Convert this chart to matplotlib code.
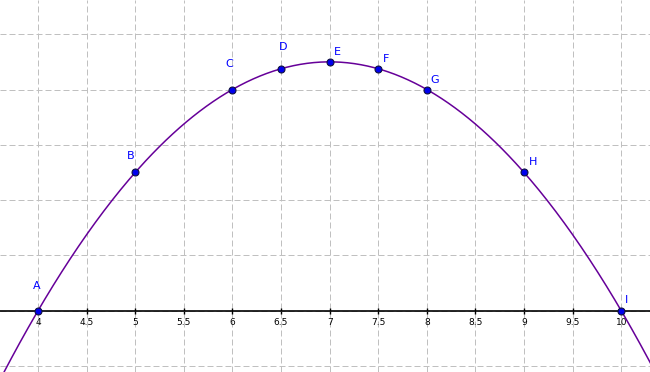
import numpy as np
import matplotlib
matplotlib.use("Agg")
import matplotlib.pyplot as plt

# point data
names = ["A", "B", "C", "D", "E", "F", "G", "H", "I"]
px = [4, 5, 6, 6.5, 7, 7.5, 8, 9, 10]
py = [0, 5, 8, 8.75, 9, 8.75, 8, 5, 0]
xticks = [4, 4.5, 5, 5.5, 6, 6.5, 7, 7.5, 8, 8.5, 9, 9.5, 10]
xtick_labels = ["4", "4.5", "5", "5.5", "6", "6.5", "7", "7.5", "8", "8.5", "9", "9.5", "10"]
ygrid = [-2, 0, 2, 4, 6, 8, 10]

# label offsets in pixels (dx, dy)
offsets = [(-1, 25), (-5, 16), (-3, 26), (2, 22), (8, 10), (8, 10), (8, 10), (9, 10), (5, 11)]

fig = plt.figure(figsize=(6.5, 3.72), dpi=100)
ax = fig.add_axes([0, 0, 1, 1])

ax.set_xlim(3.609, 10.296)
ax.set_ylim(-2.217, 11.237)

# grid
ax.set_xticks(xticks)
ax.set_xticklabels(xtick_labels)
ax.set_yticks(ygrid)
ax.grid(True, color="#c0c0c0", linestyle=(0, (6, 3)), linewidth=0.72)
ax.set_axisbelow(True)

for s in ["top", "right", "left"]:
    ax.spines[s].set_visible(False)
ax.spines["bottom"].set_position(("data", 0))
ax.spines["bottom"].set_linewidth(1.2)
ax.tick_params(axis="x", direction="inout", length=5, width=1, pad=2.5,
               colors="black", labelsize=6.5)
ax.tick_params(axis="y", left=False, labelleft=False)

# parabola through the points
coef = np.polyfit(px, py, 2)
xs = np.linspace(3.5, 10.4, 400)
ax.plot(xs, np.polyval(coef, xs), color="#660099", linewidth=1.1, zorder=3)

ax.plot(px, py, "o", color="#0000ee", markeredgecolor="#101040",
        markersize=5, markeredgewidth=0.8, zorder=4)

for n, x, y, (dx, dy) in zip(names, px, py, offsets):
    ax.annotate(n, (x, y), xytext=(dx, dy), textcoords="offset pixels",
                ha="center", va="center", color="#0000ff", fontsize=8)

fig.savefig("out.png", dpi=100)
